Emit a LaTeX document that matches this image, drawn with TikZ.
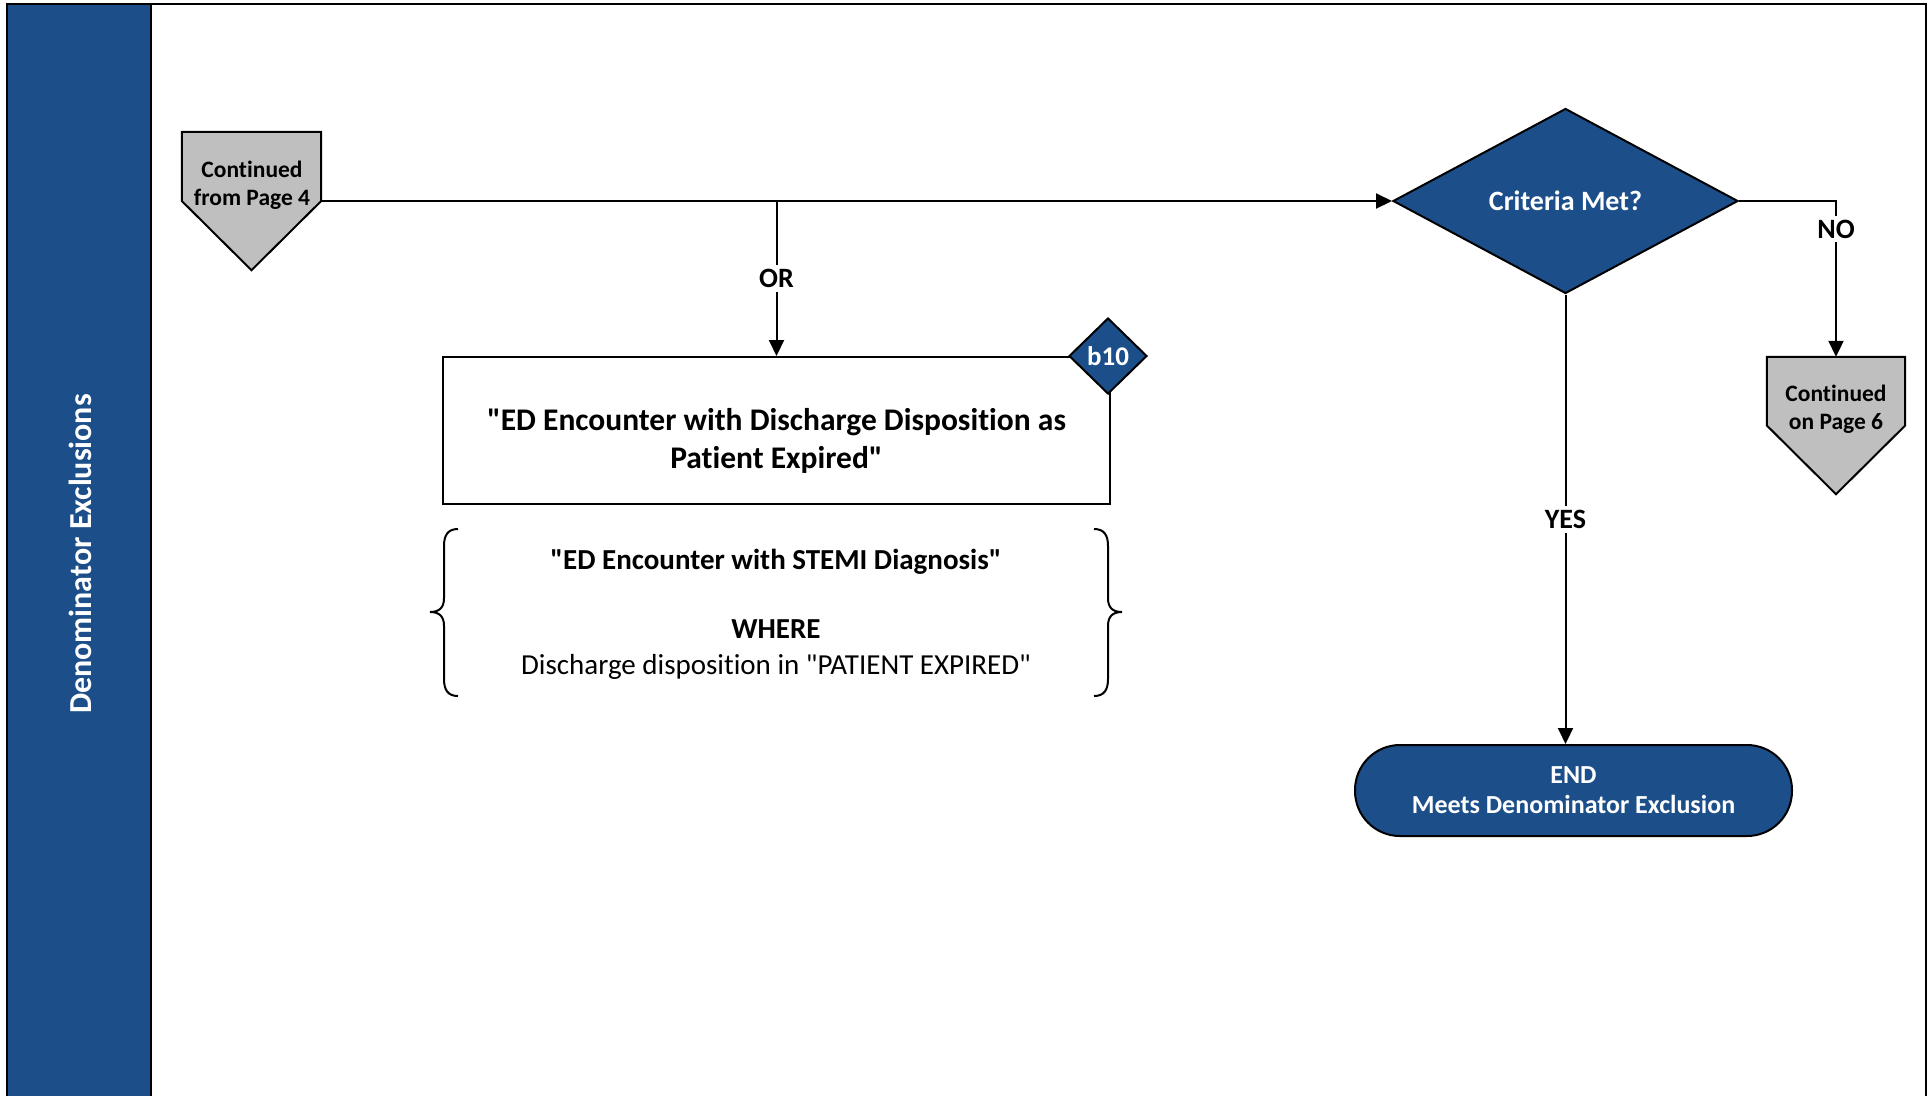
\documentclass[tikz,border=0pt]{standalone}
\usepackage{fontspec}
\setmainfont{Carlito}[Ligatures={TeXOff,CommonOff}]
\usetikzlibrary{arrows.meta,shapes.geometric,calc}
\definecolor{navy}{RGB}{28,79,138}
\definecolor{cgray}{RGB}{191,191,191}
\begin{document}
\begin{tikzpicture}[x=1pt,y=-1pt,
  conn/.style={line width=2pt},
  arr/.style={conn,-{Triangle[length=16pt,width=15pt]}},
  lbl/.style={fill=white,inner sep=4pt,font=\fontsize{28}{32}\selectfont\bfseries},
  pentbox/.style={minimum width=139pt,minimum height=138pt,inner sep=0pt},
  pent/.style={draw,line width=2pt,fill=cgray,line join=miter},
  conttxt/.style={align=center,inner sep=0pt,font=\fontsize{23.5}{28}\selectfont\bfseries},
  navydia/.style={diamond,draw,line width=2pt,fill=navy,inner sep=0pt,text=white},
]
\useasboundingbox (0,0) rectangle (1931,1096);
% lane
\fill[navy] (7,4) rectangle (151,1096);
\draw[line width=2.5pt] (7,1096) -- (7,4) -- (1926,4) -- (1926,1096);
\draw[line width=2.5pt] (151,4) -- (151,1096);
\node[rotate=90,text=white,inner sep=0pt,font=\fontsize{32}{38}\selectfont\bfseries] (title) at (80,554) {Denominator Exclusions};

% start off-page connector
\node[pentbox] (start) at (251.5,201) {};
\draw[pent] (start.north west) -- (start.north east) -- (start.east) -- (start.south) -- (start.west) -- cycle;
\node[conttxt] (starttxt) at (252,185.5) {Continued\\from Page 4};

% decision
\node[navydia,minimum width=345pt,minimum height=185pt,aspect=1.865,font=\fontsize{28}{32}\selectfont\bfseries] (crit) at (1565.5,201) {Criteria Met?};

% continued on page 6
\node[pentbox,minimum width=138pt,minimum height=137pt] (cont6) at (1836,425.5) {};
\draw[pent] (cont6.north west) -- (cont6.north east) -- (cont6.east) -- (cont6.south) -- (cont6.west) -- cycle;
\node[conttxt] (cont6txt) at (1836,409.5) {Continued\\on Page 6};

% process box
\node[draw,line width=2pt,minimum width=667pt,minimum height=147pt,inner sep=0pt] (box) at (776.5,430.5) {};
\node[align=center,inner sep=0pt,font=\fontsize{31.5}{38}\selectfont\bfseries] (boxtxt) at (776.5,440.5) {"ED Encounter with Discharge Disposition as\\Patient Expired"};
\node[navydia,minimum width=78pt,minimum height=76pt,font=\fontsize{27}{30}\selectfont\bfseries] (b10) at (1108,356) {b10};

% braces
\draw[line width=2pt] (458,529) .. controls (448,529) and (444,535) .. (444,546) -- (444,598) .. controls (444,607) and (440,612) .. (430,612) .. controls (440,612) and (444,617) .. (444,626) -- (444,679) .. controls (444,690) and (448,696) .. (458,696);
\draw[line width=2pt] (1094,529) .. controls (1104,529) and (1108,535) .. (1108,546) -- (1108,598) .. controls (1108,607) and (1112,612) .. (1122,612) .. controls (1112,612) and (1108,617) .. (1108,626) -- (1108,679) .. controls (1108,690) and (1104,696) .. (1094,696);
\node[align=center,inner sep=0pt,font=\fontsize{29}{36}\selectfont] (where) at (776,614) {\textbf{"ED Encounter with STEMI Diagnosis"}\\[33pt]\textbf{WHERE}\\Discharge disposition in "PATIENT EXPIRED"};

% end terminal
\node[draw,line width=2pt,fill=navy,rounded corners=45pt,minimum width=437pt,minimum height=91pt,text=white,align=center,font=\fontsize{26}{30}\selectfont\bfseries] (endn) at (1573.5,790.5) {END\\Meets Denominator Exclusion};

% connectors
\draw[arr] (start.east) -- (crit.west);
\draw[arr] (box.north |- start.east) -- node[lbl]{OR} (box.north);
\draw[arr] (crit.east) -| node[lbl,pos=0.59]{NO} (cont6.north);
\draw[arr] (crit.south) -- node[lbl]{YES} (crit.south |- endn.north);
\end{tikzpicture}
\end{document}
